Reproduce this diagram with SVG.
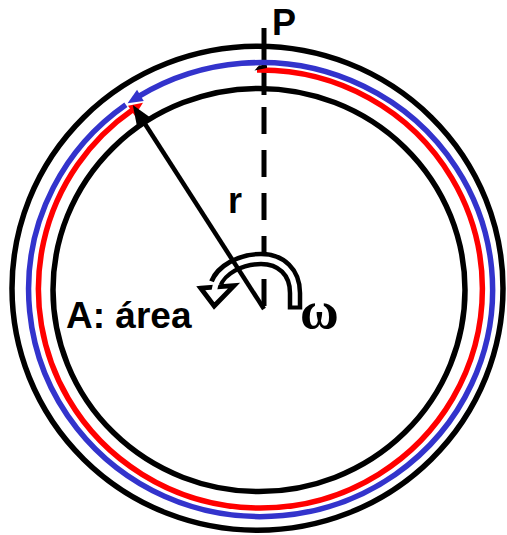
<svg xmlns="http://www.w3.org/2000/svg" width="507" height="535" viewBox="0 0 507 535">
<style>
.ring{fill:none;stroke:#000;stroke-width:5.5}
.lbl{font-family:"Liberation Sans",Arial,sans-serif;font-weight:bold;fill:#000}
.greek{font-family:"Liberation Serif","Times New Roman",serif;font-weight:bold;fill:#000}
</style>
<defs>
<marker id="mBlue" markerUnits="userSpaceOnUse" orient="auto" overflow="visible" refX="2" refY="0" markerWidth="20" markerHeight="20"><path d="M0,-6.5 L15,0 L0,6.5 z" fill="#3333cc"/></marker>
<marker id="mRed" markerUnits="userSpaceOnUse" orient="auto" overflow="visible" refX="2" refY="0" markerWidth="20" markerHeight="20"><path d="M0,-6 L14,0 L0,6 z" fill="#ff0000"/></marker>
</defs>
<rect width="507" height="535" fill="#fff"/>
<g id="rings">
<ellipse class="ring" cx="257.5" cy="288.3" rx="245.5" ry="242"/>
<ellipse class="ring" cx="259" cy="290" rx="206" ry="201.6"/>
</g>
<g id="axis">
<line x1="264" y1="28" x2="264" y2="95" stroke="#000" stroke-width="5"/>
<line x1="264" y1="107" x2="264" y2="306" stroke="#000" stroke-width="5" stroke-dasharray="27 16"/>
</g>
<g id="connectors">
<path id="blueArc" d="M125.88,104.80 A232,227 0 0 0 164.39,496.16 A232,227 0 0 0 491.53,267.84 A232,227 0 0 0 138.69,96.47" fill="none" stroke="#3333cc" stroke-width="5.5" marker-end="url(#mBlue)"/>
<path id="redArc" d="M256.99,70.03 A222,219 0 0 1 452.65,398.5 A222,219 0 0 1 68.15,398.5 A222,219 0 0 1 133.07,109.60" fill="none" stroke="#ff0000" stroke-width="5.5" marker-end="url(#mRed)"/>
<polygon points="254.5,70.5 259,65.5 267,65.5 267,68" fill="#000"/>
</g>
<g id="rotation">
<path d="M295,309.5 L295,293 C295,272 281,259 261,259 C240,259 221,270 216,283" fill="none" stroke="#000" stroke-width="14.5"/>
<polygon points="200.8,288.2 234,285.6 214.2,306" fill="#fff" stroke="#000" stroke-width="4.8" stroke-linejoin="miter"/>
<path d="M295,305.5 L295,293 C295,272 281,259 261,259 C240,259 221,270 215.5,285 L214,292" fill="none" stroke="#fff" stroke-width="5.5"/>
</g>
<g id="radius">
<line x1="264" y1="309" x2="143.6" y2="121.8" stroke="#000" stroke-width="4.5"/>
<polygon points="132.8,105 150.3,117.5 136.9,126.1" fill="#000"/>
</g>
<g id="labels">
<text class="lbl" x="272" y="35" font-size="36">P</text>
<text class="lbl" x="228" y="213" font-size="36">r</text>
<text class="lbl" x="66" y="328" font-size="37">A: área</text>
<text class="greek" x="300" y="328" font-size="53">ω</text>
</g>
</svg>
